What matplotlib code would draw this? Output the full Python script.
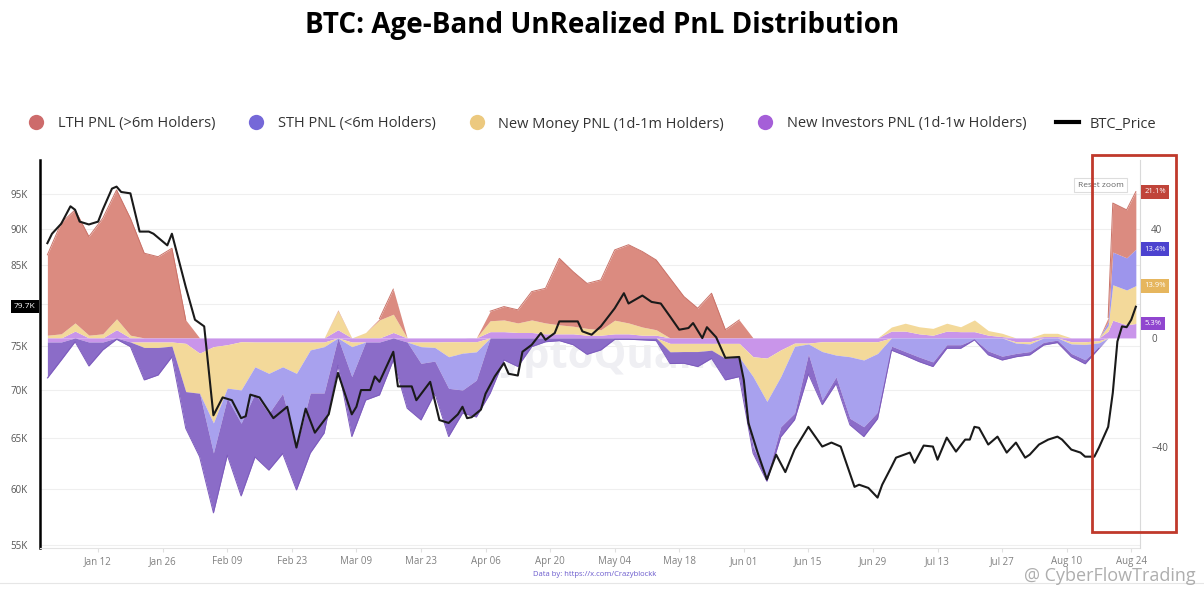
import numpy as np
import pandas as pd
import matplotlib
matplotlib.use("Agg")
import matplotlib.pyplot as plt
import matplotlib.transforms as mtransforms
from matplotlib.lines import Line2D
from matplotlib.patches import Rectangle
from matplotlib.ticker import FixedLocator, NullLocator
import matplotlib.dates as mdates

plt.rcParams['font.family'] = ['Open Sans', 'DejaVu Sans']

start = pd.Timestamp('2026-01-01')

# PnL series (%), sampled every ~3 days from Jan 1
stack_days = [0, 3, 6, 9, 12, 15, 18, 21, 24, 27,
              30, 33, 36, 39, 42, 45, 48, 51, 54, 57, 60,
              63, 66, 69, 72, 75, 78, 81, 84, 87, 90, 93,
              96, 99, 102, 105, 108, 111, 114, 117, 120, 123, 126,
              129, 132, 135, 138, 141, 144, 147, 150,
              153, 156, 159, 162, 165, 168, 171, 174, 177, 180,
              183, 186, 189, 192, 195, 198, 201, 204, 207, 210, 213, 216, 219, 222, 225, 228,
              230, 231, 234, 236]
lth_pnl = [29.5, 40.7, 41.5, 36.2, 42.4, 47.3, 42.9, 31.1, 29.8, 32.9,
           6.6, 0, -11, -3.7, -12.2, -9.8, -14.7, -9.8, -26.9, -15.8, -17,
           0.3, -11, 0, 0.5, 9.2, 0, -6.1, -5, -11.6, -13.5, -10.4,
           3.5, 4.9, 4.8, 10.4, 12.7, 24.4, 20, 16.5, 18.3, 25.8, 28.7,
           27.7, 25.6, 21.9, 15.2, 10.9, 16.4, 3, 6.6,
           -25.7, -27.5, -18.4, -24.5, -3.7, -17.7, -8, -22.6, -24.5, -21.5,
           -3, -5, -7, -8.8, -2.5, -2.5, -0.5, -4.8, -6.7, -3.8, -2.8, -1.6, -0.8, -3.5, -5.6, -1.5,
           1.5, 18, 17.6, 21.1]
sth_pnl = [-13.2, -6.6, -1.4, -8.8, -2.9, -0.5, -1.7, -11.9, -10.1, -3.9,
           -13.5, -23.3, -22, -20.9, -26.7, -23.3, -20.8, -22, -15.9, -22, -14.7,
           -10, -22, -21.3, -19.4, -8.1, -24.3, -20.8, -11.8, -17.7, -8.5, -13.5,
           -20.3, -8.1, -10.5, -3.2, -1.4, -1, -2.5, -6, -4.4, -0.5, -0.5,
           -0.7, -1, -4.3, -4.3, -5.5, -3, -7.9, -7.2,
           -2.4, -1.8, -3.7, -2.4, -7.3, -1.8, -2.4, -2.4, -3.6, -2.4,
           -1.5, -1.5, -1.7, -1.7, -1.3, -1.3, -0.2, -1.4, -1.4, -1.2, -1.2, -1, -0.9, -1.2, -1.5, -0.5,
           1.5, 12, 11.8, 13.4]
new_money_pnl = [1, 1.5, 3, 1, 1.5, 4, 1, -2, -2, -1.5,
                 -17.7, -14.7, -28, -15.9, -17.7, -9.1, -11.5, -9.1, -11.5, -2.9, -1.7,
                 7, -1.7, 2, 6.6, 6.7, 0, -1.7, -2, -5.5, -4.2, -3.7,
                 4, 4.3, 3.5, 4.6, 4, 3.3, 2.8, 2.5, 2, 5, 4,
                 3, 2, -3.1, -3, -3, -2.5, -5.5, -5,
                 -7.3, -15.9, -9.8, -1.2, -0.3, -3.6, -4.9, -5.5, -6.7, -4.3,
                 1.5, 2.9, 2.6, 2.5, 2.9, 1.8, 4.3, 1.7, 1.2, -0.5, -0.8, 1.2, 1.2, -0.8, -1, -0.8,
                 2, 13, 12.8, 13.9]
new_inv_pnl = [-1.5, -1.5, 2.5, -1.5, -1.5, 3, -1.5, -1.5, -1.5, -1.5,
               -2, -5.6, -3.2, -2.5, -1.4, -1.5, -1.5, -1.5, -1.5, -1.5, -1.5,
               3, -1.5, -1.5, -1.5, 2, -1.5, -1.5, -1.5, -1.4, -1.4, -1.4,
               2.3, 2.3, 2, 2, 1.5, 1.5, 1.5, 1, 1, 1.5, 1.5,
               1, 1, -2, -2, -2, -2, -2, -2,
               -6.9, -7.4, -4.4, -1.9, -1.9, -1.4, -1.4, -1.4, -1.4, -1.4,
               2.5, 2.5, 1.5, 1, 2.5, 2.3, 2.3, 1, 0.5, -1.4, -1.4, 0.5, 0.5, -1.4, -1.4, -1,
               2.5, 6.5, 4.8, 5.3]

# BTC price (thousands USD)
price_days = [0, 1, 3, 5, 6, 7, 9, 11, 12, 14, 15, 16, 18, 20, 22, 23, 26, 27, 30, 32,
              34, 36, 38, 40, 42, 43, 44, 46, 49, 52, 54, 56, 58, 61, 63, 66, 67, 68, 70, 71,
              72, 75, 76, 79, 80, 83, 85, 87, 89, 90, 91, 92, 94, 95, 97, 99, 100, 102, 103, 105,
              107, 108, 110, 111, 113, 115, 116, 118, 120, 123, 125, 126, 129, 131, 133, 135, 137, 139, 140, 142,
              143, 145, 147, 150, 151, 152, 154, 156, 158, 160, 162, 165, 168, 170, 172, 175, 176, 178, 180, 181,
              183, 184, 187, 188, 190, 192, 193, 195, 197, 199, 200, 201, 202, 204, 206, 208, 210, 212, 213, 215,
              217, 219, 220, 222, 224, 225, 227, 228, 230, 231, 232, 233, 234, 235, 236]
btc_price_k = [88.0, 89.3, 90.7, 93.2, 92.7, 91.0, 90.6, 91.0, 92.7, 95.8, 96.1, 95.3, 95.1, 89.6, 89.6, 89.3, 87.7, 89.3, 82.2, 78.1,
               77.3, 67.3, 69.2, 68.9, 67.0, 67.2, 69.5, 69.2, 67.0, 68.2, 64.0, 68.0, 65.5, 67.4, 71.9, 67.4, 68.2, 70.0, 70.0, 71.5,
               70.9, 74.3, 70.4, 70.4, 68.9, 70.9, 66.8, 66.5, 67.4, 68.2, 67.0, 67.1, 67.9, 69.6, 71.5, 73.0, 71.8, 71.6, 74.3, 75.1,
               76.5, 75.7, 76.5, 77.9, 77.9, 77.9, 76.7, 76.3, 77.3, 79.5, 81.4, 80.1, 81.1, 80.3, 80.1, 78.5, 76.9, 77.1, 77.7, 75.9,
               77.2, 76.0, 73.6, 73.7, 71.1, 66.5, 63.5, 60.9, 63.3, 61.6, 63.8, 66.1, 64.1, 64.5, 64.1, 60.2, 60.4, 60.1, 59.2, 60.4,
               62.1, 63.0, 63.5, 62.5, 64.2, 64.1, 62.8, 65.0, 63.6, 64.8, 64.8, 66.1, 66.0, 64.3, 65.1, 63.5, 64.5, 63.0, 63.3, 64.3,
               64.8, 65.1, 64.8, 63.8, 63.5, 63.1, 63.1, 64.0, 66.1, 69.7, 75.5, 77.3, 77.2, 78.1, 79.7]

price_ticks = [55, 60, 65, 70, 75, 80, 85, 90, 95]
price_tick_labels = ['55K', '60K', '65K', '70K', '75K', '', '85K', '90K', '95K']
pnl_ticks = [-40, 0, 40]
x_tick_dates = ['2026-01-12', '2026-01-26', '2026-02-09', '2026-02-23', '2026-03-09', '2026-03-23',
                '2026-04-06', '2026-04-20', '2026-05-04', '2026-05-18', '2026-06-01', '2026-06-15',
                '2026-06-29', '2026-07-13', '2026-07-27', '2026-08-10', '2026-08-24']

series_names = ['LTH PNL (>6m Holders)', 'STH PNL (<6m Holders)', 'New Money PNL (1d-1m Holders)',
                'New Investors PNL (1d-1w Holders)', 'BTC_Price']

dates = start + pd.to_timedelta(stack_days, unit='D')
price_dates = start + pd.to_timedelta(price_days, unit='D')

ni = np.array(new_inv_pnl)
nm = np.array(new_money_pnl)
sth = np.array(sth_pnl)
lth = np.array(lth_pnl)
pos = lambda a: np.clip(a, 0, None)
neg = lambda a: np.clip(a, None, 0)

# positive stack from zero: NI, NM, STH, LTH
p1 = pos(ni)
p2 = p1 + pos(nm)
p3 = p2 + pos(sth)
p4 = p3 + pos(lth)
# negative stack from zero: NI, NM, LTH, STH
n1 = neg(ni)
n2 = n1 + neg(nm)
n3 = n2 + neg(lth)
n4 = n3 + neg(sth)

c_lth, c_lth_neg = '#db8b80', '#a8a1ee'
c_sth, c_sth_neg = '#9d95ec', '#8b6cc8'
c_nm = '#f3d99a'
c_ni = '#c995ea'

fig = plt.figure(figsize=(12.04, 5.92), dpi=100)
ax = fig.add_axes([40 / 1204, 44 / 592, 1100 / 1204, 388 / 592])
ax_pnl = ax.twinx()
ax_px = ax.twinx()

x0 = start - pd.Timedelta(days=1.6)
x1 = start + pd.Timedelta(days=236.9)

# base axes: price scale, grid, left labels
ax.set_yscale('log')
ax.set_ylim(54.73, 100.17)
ax.set_xlim(x0, x1)
ax.yaxis.set_major_locator(FixedLocator(price_ticks))
ax.yaxis.set_minor_locator(NullLocator())
ax.set_yticklabels(price_tick_labels)
ax.yaxis.grid(True, color='#efefef', lw=0.8)
ax.tick_params(axis='y', labelsize=7, colors='#555555', length=0, pad=9)
ax.xaxis.set_major_locator(FixedLocator(mdates.date2num(pd.to_datetime(x_tick_dates))))
ax.xaxis.set_major_formatter(mdates.DateFormatter('%b %d'))
ax.tick_params(axis='x', labelsize=7, colors='#808080', length=3, color='#e0e0e0', pad=3)
for s in ['top', 'right']:
    ax.spines[s].set_visible(False)
ax.spines['bottom'].set_color('#e3e3e3')
ax.spines['left'].set_color('black')
ax.spines['left'].set_linewidth(1.8)
ax.text(0.5, 0.49, 'CryptoQuant', transform=ax.transAxes, ha='center', va='center',
        fontsize=30, fontweight='bold', color='#efeff3', zorder=0)

# PnL areas
ax_pnl.set_ylim(-77.1, 65.3)
ax_pnl.fill_between(dates, 0, p1, color=c_ni, lw=0)
ax_pnl.fill_between(dates, p1, p2, color=c_nm, lw=0)
ax_pnl.fill_between(dates, p2, p3, color=c_sth, lw=0)
ax_pnl.fill_between(dates, p3, p4, color=c_lth, lw=0)
ax_pnl.fill_between(dates, 0, n1, color=c_ni, lw=0)
ax_pnl.fill_between(dates, n1, n2, color=c_nm, lw=0)
ax_pnl.fill_between(dates, n2, n3, color=c_lth_neg, lw=0)
ax_pnl.fill_between(dates, n3, n4, color=c_sth_neg, lw=0)
ax_pnl.plot(dates, np.where(p4 > p3, p4, np.nan), color='#c97268', lw=0.7)
ax_pnl.plot(dates, np.where(n4 < n3, n4, np.nan), color='#7d5cbd', lw=0.7)
ax_pnl.yaxis.set_major_locator(FixedLocator(pnl_ticks))
ax_pnl.tick_params(axis='y', labelsize=7, colors='#555555', length=0, pad=8)
for s in ['top', 'left', 'bottom']:
    ax_pnl.spines[s].set_visible(False)
ax_pnl.spines['right'].set_color('#d9d9d9')

# last-value labels on the right
trans = mtransforms.blended_transform_factory(ax_pnl.transAxes, ax_pnl.transData)
last_vals = [(p4[-1], lth[-1], '#c0443a'), (p3[-1], sth[-1], '#4c42cf'),
             (p2[-1], nm[-1], '#e6b65e'), (p1[-1], ni[-1], '#9046cf')]
for ypos, val, col in last_vals:
    ax_pnl.text(1.004, ypos, f'{val:.1f}%', transform=trans, ha='left', va='center', fontsize=5.5,
                color='white', bbox=dict(boxstyle='square,pad=0.45', fc=col, ec='none'))

# BTC price line on top
ax_px.set_yscale('log')
ax_px.set_ylim(54.73, 100.17)
ax_px.plot(price_dates, btc_price_k, color='#1a1a1a', lw=1.5)
ax_px.set_yticks([])
ax_px.yaxis.set_minor_locator(NullLocator())
for s in ax_px.spines.values():
    s.set_visible(False)
ax_px.set_xlim(x0, x1)

ptrans = mtransforms.blended_transform_factory(ax_px.transAxes, ax_px.transData)
ax_px.text(-0.004, btc_price_k[-1], f'{btc_price_k[-1]:.1f}K', transform=ptrans, ha='right', va='center',
           fontsize=6, color='white', clip_on=False,
           bbox=dict(boxstyle='square,pad=0.35', fc='black', ec='none'))

ax_px.text(0.985, 0.935, 'Reset zoom', transform=ax_px.transAxes, ha='right', va='center', fontsize=6,
           color='#666666', bbox=dict(boxstyle='square,pad=0.45', fc='white', ec='#dddddd', lw=0.8))

# title and legend
fig.text(0.5, 1 - 25 / 592, 'BTC: Age-Band UnRealized PnL Distribution', ha='center', va='center',
         fontsize=20, fontweight='bold', color='black')
marker_cols = ['#cd6b6b', '#7568d8', '#ecc97f', '#a55fd8']
handles = [Line2D([], [], marker='o', ls='none', ms=11, mfc=c, mec='none') for c in marker_cols]
handles.append(Line2D([], [], color='black', lw=3))
fig.legend(handles, series_names, loc='center', bbox_to_anchor=(0.49, 1 - 124 / 592), ncol=5,
           frameon=False, fontsize=10.5, handletextpad=0.7, columnspacing=2.0, handlelength=1.6,
           labelcolor='#333333')

# highlight box
fig.patches.append(Rectangle((1092 / 1204, 1 - 532 / 592), 84 / 1204, 377 / 592, transform=fig.transFigure,
                             fill=False, ec='#c0392b', lw=2))

# footer
fig.text(0.494, 1 - 575 / 592, 'Data by: https://x.com/Crazyblockk', ha='center', va='center',
         fontsize=5.5, color='#6a5acd')
fig.add_artist(Line2D([0, 1], [1 - 583 / 592, 1 - 583 / 592], transform=fig.transFigure, color='#e6e6e6', lw=0.8))
fig.text(0.993, 1 - 576 / 592, '@ CyberFlowTrading', ha='right', va='center', fontsize=13,
         color='#a0a0a0', alpha=0.85)

fig.savefig('out.png', dpi=100)
